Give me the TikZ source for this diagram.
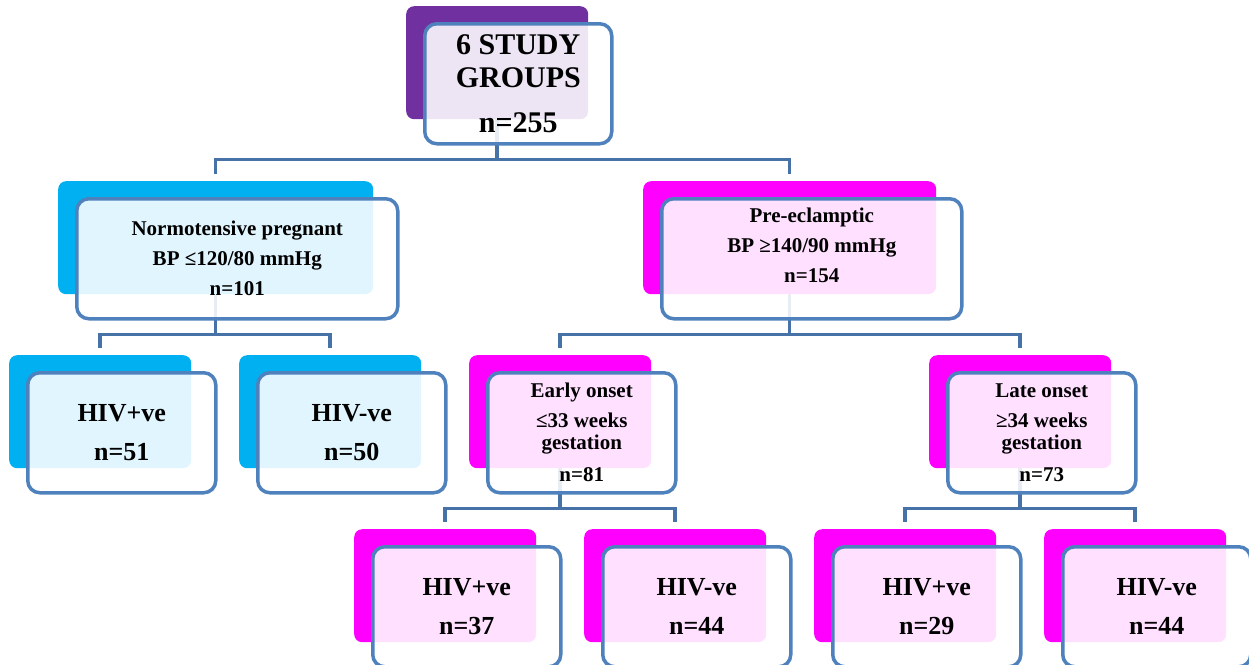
\documentclass[tikz,border=0pt]{standalone}
\usepackage{fontspec}
\setmainfont{Liberation Serif}
\usetikzlibrary{positioning,backgrounds}
\definecolor{grpPurple}{HTML}{7030A0}
\definecolor{grpCyan}{HTML}{00B0F0}
\definecolor{grpMagenta}{HTML}{FF00FF}
\definecolor{frameBlue}{HTML}{4F81BD}
\definecolor{lineBlue}{HTML}{4672A8}
\begin{document}
\begin{tikzpicture}[x=1pt, y=-1pt,
    back/.style={rectangle, rounded corners=8pt, minimum height=113pt, inner sep=0pt, anchor=north west},
    front/.style={rectangle, rounded corners=12pt, draw=frameBlue, line width=3.5pt, fill=white, fill opacity=0.88, text opacity=1, minimum height=120pt, inner sep=0pt, align=center, font=\bfseries},
    small/.style={front, minimum width=188pt, font=\bfseries\fontsize{26}{39}\selectfont},
    onset/.style={front, minimum width=188pt, font=\bfseries\fontsize{21}{22}\selectfont},
    fork/.style={draw=lineBlue, line width=3.5pt, shorten >=7pt, to path={(\tikztostart) -- ++(0,97) -| (\tikztotarget)}}]
    \useasboundingbox (0,0) rectangle (1249,664);
    % all groups
    \node[back, fill=grpPurple, minimum width=182pt] (topB) at (406,6) {};
    \node[front, minimum width=187pt, font=\bfseries\fontsize{30}{33}\selectfont, below right=16pt and 17pt of topB.north west] (top) {6 STUDY\\ GROUPS\\[12pt] n=255};
    % normotensive and pre-eclamptic
    \node[back, fill=grpCyan, minimum width=315pt] (normB) at (58,181) {};
    \node[front, minimum width=321pt, font=\bfseries\fontsize{21}{30}\selectfont, below right=16pt and 17pt of normB.north west] (norm) {Normotensive pregnant\\ BP ≤120/80 mmHg\\ n=101};
    \node[back, fill=grpMagenta, minimum width=293pt] (preB) at (643,181) {};
    \node[front, minimum width=300pt, font=\bfseries\fontsize{21}{30}\selectfont, below right=16pt and 17pt of preB.north west] (pre) {Pre-eclamptic\\ BP ≥140/90 mmHg\\ n=154\\[-2pt]\mbox{}};
    % third row
    \node[back, fill=grpCyan, minimum width=182pt] (nposB) at (9,355) {};
    \node[small, below right=16pt and 17pt of nposB.north west] (npos) {HIV+ve\\ n=51};
    \node[back, fill=grpCyan, minimum width=182pt] (nnegB) at (239,355) {};
    \node[small, below right=16pt and 17pt of nnegB.north west] (nneg) {HIV-ve\\ n=50};
    \node[back, fill=grpMagenta, minimum width=182pt] (earlyB) at (469,355) {};
    \node[onset, below right=16pt and 17pt of earlyB.north west] (early) {Early onset\\[8pt] ≤33 weeks\\ gestation\\[10pt] n=81};
    \node[back, fill=grpMagenta, minimum width=182pt] (lateB) at (929,355) {};
    \node[onset, below right=16pt and 17pt of lateB.north west] (late) {Late onset\\[8pt] ≥34 weeks\\ gestation\\[10pt] n=73};
    % bottom row
    \node[back, fill=grpMagenta, minimum width=182pt] (eposB) at (354,529) {};
    \node[small, below right=16pt and 17pt of eposB.north west] (epos) {HIV+ve\\ n=37};
    \node[back, fill=grpMagenta, minimum width=182pt] (enegB) at (584,529) {};
    \node[small, below right=16pt and 17pt of enegB.north west] (eneg) {HIV-ve\\ n=44};
    \node[back, fill=grpMagenta, minimum width=182pt] (lposB) at (814,529) {};
    \node[small, below right=16pt and 17pt of lposB.north west] (lpos) {HIV+ve\\ n=29};
    \node[back, fill=grpMagenta, minimum width=182pt] (lnegB) at (1044,529) {};
    \node[small, below right=16pt and 17pt of lnegB.north west] (lneg) {HIV-ve\\ n=44};
    % connectors behind the boxes
    \begin{scope}[on background layer]
        \path (topB.center) edge[fork] (normB.north) edge[fork] (preB.north)
              (normB.center) edge[fork] (nposB.north) edge[fork] (nnegB.north)
              (preB.center) edge[fork] (earlyB.north) edge[fork] (lateB.north)
              (earlyB.center) edge[fork] (eposB.north) edge[fork] (enegB.north)
              (lateB.center) edge[fork] (lposB.north) edge[fork] (lnegB.north);
    \end{scope}
\end{tikzpicture}
\end{document}
